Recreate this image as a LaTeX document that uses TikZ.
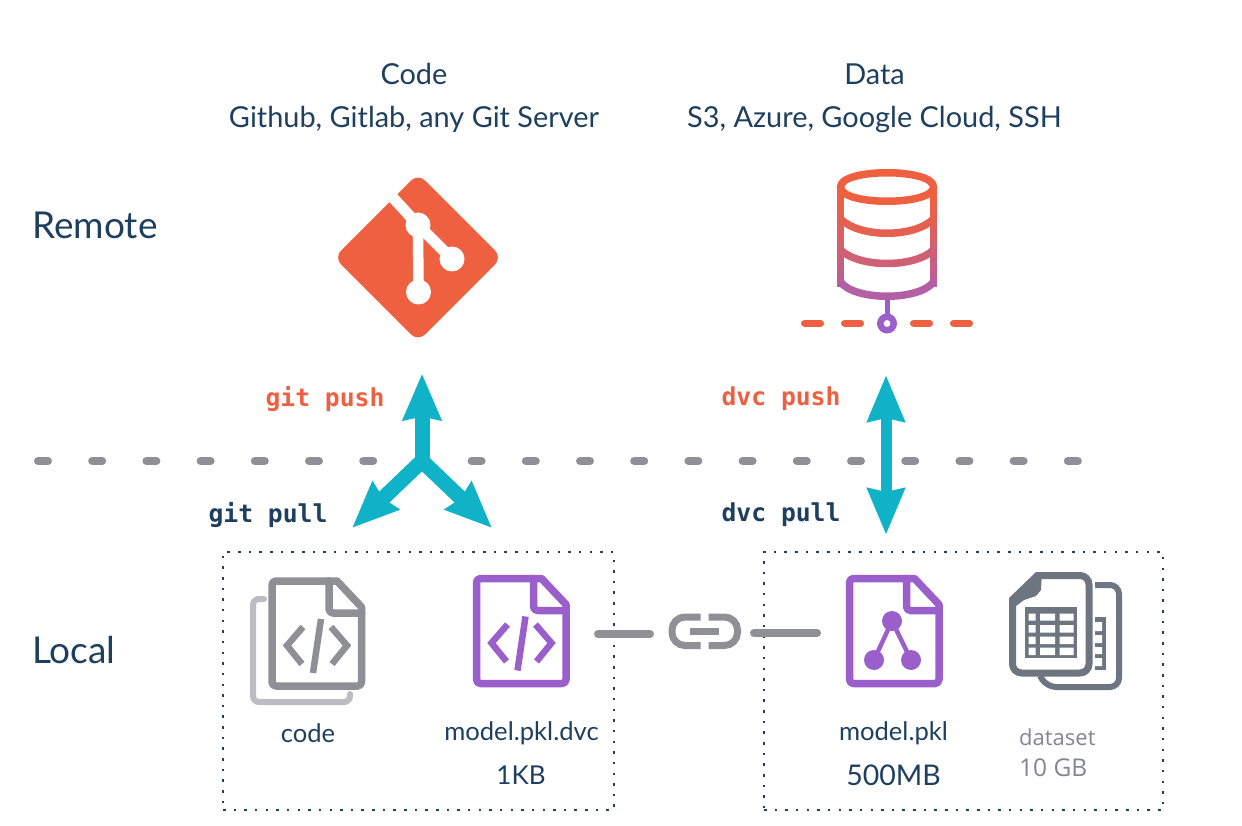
\documentclass[tikz,border=0pt]{standalone}
\usepackage{fontspec}
\setmainfont{Lato}
\newfontfamily\monob{DejaVu Sans Mono}[BoldFont={DejaVu Sans Mono Bold}]
\newfontfamily\sansb{Open Sans}
\usetikzlibrary{arrows.meta}
\definecolor{navy}{HTML}{1E3F5F}
\definecolor{orange}{HTML}{EF6041}
\definecolor{purple}{HTML}{9A5FCB}
\definecolor{teal}{HTML}{0FB2C6}
\definecolor{midgray}{HTML}{8E9095}
\definecolor{softgray}{HTML}{BCBCC2}
\definecolor{slate}{HTML}{6C7580}
\definecolor{datatext}{HTML}{808790}
\tikzset{
  x=1pt,y=-1pt,
  heading/.style={text=navy,font=\fontsize{28.9}{29}\selectfont,inner sep=0pt},
  level/.style={text=navy,font=\fontsize{37}{37}\selectfont,inner sep=0pt,anchor=west},
  caption/.style={text=navy,font=\fontsize{25.6}{26}\selectfont,inner sep=0pt},
  datacap/.style={text=datatext,font=\sansb\fontsize{22}{22}\selectfont,inner sep=0pt,anchor=west},
  cmd/.style={font=\monob\bfseries\fontsize{24.7}{25}\selectfont,inner sep=0pt},
  localbox/.style={draw=navy,line width=2.5pt,dash pattern=on 2.5pt off 8.15pt,minimum width=#1,inner sep=0pt},
  flow/.style={draw=teal,line width=15pt,line cap=round,-{Stealth[length=46pt,width=37pt,inset=3pt]}},
  flowtwo/.style={draw=teal,line width=11pt,{Stealth[length=46pt,width=36pt,inset=3pt]}-{Stealth[length=46pt,width=36pt,inset=3pt]}},
  linkline/.style={draw=midgray,line width=8pt,line cap=round},
  outline/.style={line width=7.5pt,line join=round,line cap=round},
}
\newcommand\docsheet[1]{%
  \draw[outline,draw=#1,rounded corners=4pt] (329,581) -- (272,581) -- (272,686) -- (361.5,686) -- (361.5,613);
  \draw[outline,draw=#1] (328,581) -- (337,581) -- (361.5,607) -- (361.5,614);
  \draw[outline,draw=#1,rounded corners=4pt] (329,581) -- (329,613) -- (361.5,613);
}
\newcommand\codeglyph[1]{%
  \draw[draw=#1,line width=6.5pt,line join=miter] (303,627) -- (287,645.5) -- (302,664);
  \draw[draw=#1,line width=6.5pt] (321,619) -- (313,673);
  \draw[draw=#1,line width=6.5pt,line join=miter] (331,627) -- (347,645.5) -- (332,664);
}
\begin{document}
\begin{tikzpicture}
\useasboundingbox (0,0) rectangle (1242,826);
% texts
\node[heading] (codehead) at (414,73.5) {Code};
\node[heading] (codesub) at (414,119) {Github, Gitlab, any Git Server};
\node[heading] (datahead) at (874.5,74) {Data};
\node[heading] (datasub) at (874.5,119) {S3, Azure, Google Cloud, SSH};
\node[level] (remote) at (32,225) {Remote};
\node[level] (local) at (32,650) {Local};
\node[cmd,text=orange] (gitpush) at (325,399) {git push};
\node[cmd,text=navy] (gitpull) at (268,515) {git pull};
\node[cmd,text=orange] (dvcpush) at (781,399) {dvc push};
\node[cmd,text=navy] (dvcpull) at (781,515) {dvc pull};
\node[caption] (codecap) at (308,733) {code};
\node[caption] (dvccap) at (521.5,733) {model.pkl.dvc};
\node[caption,font=\fontsize{26}{26}\selectfont] (dvcsize) at (521,775) {1KB};
\node[caption] (pklcap) at (893.5,733) {model.pkl};
\node[caption,font=\fontsize{28.5}{29}\selectfont] (pklsize) at (893.5,775) {500MB};
\node[datacap] (datacap) at (1019,737) {dataset};
\node[datacap,font=\sansb\fontsize{24.5}{25}\selectfont] (datasize) at (1019,768) {10 GB};
% divider
\coordinate (divA) at (38,461);
\coordinate (divB) at (1080,461);
\draw[midgray,line width=8pt,line cap=round,dash pattern=on 10pt off 44.2pt] (divA) -- (divB);
% local boxes
\node[localbox=391pt,minimum height=258pt] (boxcode) at (418.5,681) {};
\node[localbox=399pt,minimum height=258pt] (boxdata) at (963.5,681) {};
% git logo
\fill[orange,rounded corners=10pt] (418,173.5) -- (502,257.5) -- (418,341.5) -- (334,257.5) -- cycle;
\draw[white,line width=11pt] (385,189) -- (418,225) -- (452,259);
\draw[white,line width=10.5pt] (418,225) -- (418.5,292);
\fill[white] (418,225) circle (12.5) (452,259) circle (12.5) (418.5,292) circle (12.5);
% database
\foreach \i in {0,...,19}{
  \pgfmathsetmacro\yy{187+\i*5}
  \pgfmathsetmacro\mix{max(0,min(100,100-(\i-2)*3.6))}
  \pgfmathsetmacro\yz{\yy+5.5}
  \draw[line width=7.5pt,draw=orange!\mix!purple] (840.5,\yy) -- (840.5,\yz);
  \draw[line width=7.5pt,draw=orange!\mix!purple] (933.5,\yy) -- (933.5,\yz);
}
\draw[outline,draw=orange] (840.5,187) .. controls (840.5,168) and (933.5,168) .. (933.5,187) .. controls (933.5,206) and (840.5,206) .. (840.5,187) -- cycle;
\draw[outline,draw=orange!90!purple] (840.5,219) .. controls (860,238) and (914,238) .. (933.5,219);
\draw[outline,draw=orange!62!purple] (840.5,250) .. controls (860,268) and (914,268) .. (933.5,250);
\draw[outline,draw=orange!28!purple] (840.5,282) .. controls (855,301) and (919,301) .. (933.5,282);
\draw[purple,line width=5pt] (887,299) -- (887,314);
\draw[purple,line width=6.5pt] (887,323.5) circle (6.7);
\foreach \a/\b in {804.5/820.5,844.5/860.5,913.5/929.5,953.5/969.5}
  \draw[orange,line width=7pt,line cap=round] (\a,323) -- (\b,323);
% arrows
\coordinate (gitfork) at (422,461);
\coordinate (gitup) at (422,373.5);
\coordinate (gitleft) at (352,528);
\coordinate (gitright) at (492,528);
\draw[flow] (gitfork) -- (gitup);
\draw[flow] (gitfork) -- (gitleft);
\draw[flow] (gitfork) -- (gitright);
\coordinate (dvcup) at (886,375);
\coordinate (dvcdown) at (886,535);
\draw[flowtwo] (dvcup) -- (dvcdown);
% files
\draw[draw=softgray,line width=6pt,rounded corners=6pt,line cap=round] (264,599) -- (253,599) -- (253,702) -- (350,702) -- (350,694);
\docsheet{midgray}\codeglyph{midgray}
\begin{scope}[shift={(204.5,-2.5)}]
  \docsheet{purple}\codeglyph{purple}
\end{scope}
\begin{scope}[shift={(577.5,-2.5)}]
  \docsheet{purple}
\end{scope}
\coordinate (ta) at (892,621);
\coordinate (tb) at (874,660);
\coordinate (tc) at (911,660);
\draw[purple,line width=4.5pt] (tb) -- (ta) -- (tc);
\fill[purple] (ta) circle (10) (tb) circle (10) (tc) circle (10);
% link
\coordinate (linkA) at (598,634);
\coordinate (linkB) at (650,634);
\coordinate (linkC) at (754,633);
\coordinate (linkD) at (817,633);
\draw[linkline] (linkA) -- (linkB);
\draw[linkline] (linkC) -- (linkD);
\draw[midgray,line width=7pt,rounded corners=13pt] (700.5,617) -- (672,617) -- (672,645.5) -- (700.5,645.5);
\draw[midgray,line width=7pt,rounded corners=13pt] (708.5,617) -- (737.5,617) -- (737.5,645.5) -- (708.5,645.5);
\draw[midgray,line width=7pt] (690,631) -- (719,631);
% dataset icon
\draw[draw=slate,line width=6pt,line join=round,rounded corners=9pt] (1095,585) -- (1119,585) -- (1119,687) -- (1047,687) -- (1040,676);
\fill[slate] (1095,617) rectangle (1106,670);
\fill[white] (1095,622) rectangle (1102,631) (1095,635) rectangle (1102,643) (1095,647) rectangle (1102,654) (1095,658) rectangle (1102,666);
\fill[white,rounded corners=9pt] (1012.5,600) -- (1037,575.5) -- (1089,575.5) -- (1089,673) -- (1012.5,673) -- cycle;
\draw[draw=slate,line width=7pt,line join=round,rounded corners=9pt] (1012.5,602) -- (1012.5,673) -- (1089,673) -- (1089,575.5) -- (1040,575.5);
\fill[slate] (1009,604) -- (1009,598) -- (1036,572) -- (1042,572) -- (1041,590) -- (1036,596) -- (1024,600) -- (1016,606) -- cycle;
\fill[slate] (1025,607) rectangle (1077,658);
\fill[white]
  \foreach \ya/\yb in {613.5/620.5,625/632.5,636.5/644,647.5/655}{
    \foreach \xa/\xb in {1028.5/1035.5,1040/1055,1059.5/1073.5}{ (\xa,\ya) rectangle (\xb,\yb) }
  };
\end{tikzpicture}
\end{document}
